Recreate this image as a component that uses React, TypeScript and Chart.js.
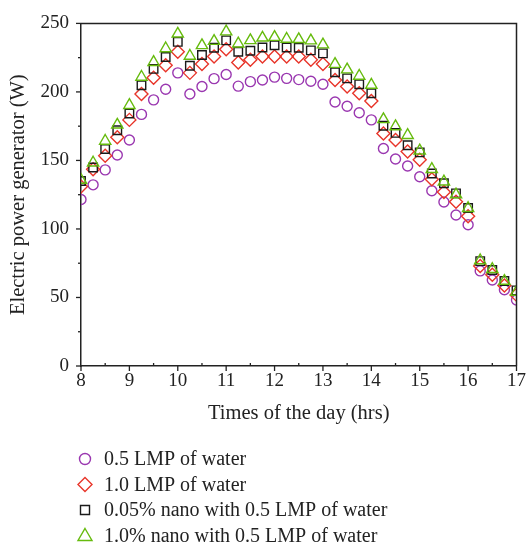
import React, { useEffect, useRef } from "react";
import { Chart, registerables } from "chart.js";

Chart.register(...registerables);

const hours = [8, 8.25, 8.5, 8.75, 9, 9.25, 9.5, 9.75, 10, 10.25, 10.5, 10.75, 11, 11.25, 11.5, 11.75, 12, 12.25, 12.5, 12.75, 13, 13.25, 13.5, 13.75, 14, 14.25, 14.5, 14.75, 15, 15.25, 15.5, 15.75, 16, 16.25, 16.5, 16.75, 17];

const lmp05 = [121.5, 132.2, 143.1, 154, 164.9, 183.6, 194.2, 202, 213.9, 198.5, 204, 209.7, 212.7, 204.2, 207.5, 208.7, 210.8, 209.9, 209, 207.8, 205.6, 192.6, 189.5, 184.8, 179.6, 158.7, 151.1, 145.9, 138.1, 127.9, 119.7, 110.2, 103.1, 69.4, 62.8, 55.6, 48.1];
const lmp10 = [131, 143.6, 153.5, 167, 179.6, 198.5, 210.4, 219.4, 229.3, 213.9, 220.3, 225.8, 231.2, 221.5, 223.4, 225.8, 225.8, 225.8, 225.8, 223.4, 220.3, 208.7, 204, 199, 193.3, 169.6, 164.9, 156.6, 150.5, 136.2, 127, 119.9, 109.2, 73, 66.6, 58.8, 51.9];
const nano005 = [135, 144.8, 158.3, 172, 184.3, 204.9, 216.8, 225.5, 236.5, 219.1, 226.9, 232.2, 237.6, 229.3, 230, 232.4, 234, 232.4, 232.2, 230.3, 228.1, 214.4, 209.9, 205.6, 199, 175.3, 170.1, 161.1, 155.9, 140.5, 133.4, 126, 115.3, 76.5, 70.1, 62, 55.2];
const nano10 = [135.7, 148.3, 164.2, 176, 190.3, 210.9, 221.7, 231.7, 242.4, 226.2, 234, 237.1, 244, 235.2, 237.6, 239.5, 240, 238.6, 238.4, 237.4, 234.5, 220.3, 216.3, 211.6, 205.1, 180, 174.8, 168.4, 157.1, 143.6, 134.5, 125.1, 115.1, 77, 70.6, 62, 54];

const seriesLabels = [
  "0.5 LMP of water",
  "1.0 LMP of water",
  "0.05% nano with 0.5 LMP of water",
  "1.0% nano with 0.5 LMP of water",
];
const seriesValues = [lmp05, lmp10, nano005, nano10];
const seriesColors = ["#9a37b0", "#e8352a", "#1a1a1a", "#66bb0e"];
const seriesStyles = ["circle", "rectRot", "rect", "triangle"];
const seriesRadius = [5, 6.5, 6, 6.5];

const xTitle = "Times of the day (hrs)";
const yTitle = "Electric power generator (W)";
const FONT = "'Liberation Serif', 'DejaVu Serif', serif";

const framePlugin = {
  id: "frame",
  afterDraw(chart: any) {
    const { ctx, chartArea } = chart;
    const { left, right, top, bottom } = chartArea;
    const xs = chart.scales.x;
    const ys = chart.scales.y;
    ctx.save();
    ctx.strokeStyle = "#222";
    ctx.lineWidth = 1.5;
    ctx.beginPath();
    ctx.moveTo(left, top);
    ctx.lineTo(right, top);
    ctx.lineTo(right, bottom);
    ctx.stroke();
    ctx.lineWidth = 1.3;
    for (let v = 8; v <= 17.001; v += 0.5) {
      const px = xs.getPixelForValue(v);
      const major = Math.abs(v - Math.round(v)) < 1e-6;
      ctx.beginPath();
      if (major) {
        ctx.moveTo(px, bottom);
        ctx.lineTo(px, bottom + 5);
      } else {
        ctx.moveTo(px, bottom);
        ctx.lineTo(px, bottom - 3);
      }
      ctx.stroke();
    }
    for (let v = 0; v <= 250.001; v += 25) {
      const py = ys.getPixelForValue(v);
      const major = v % 50 === 0;
      ctx.beginPath();
      ctx.moveTo(left, py);
      ctx.lineTo(left - (major ? 5 : 3), py);
      ctx.stroke();
    }
    const x0 = 85;
    const rowY = [459, 484.5, 510, 535.5];
    ctx.font = "20px " + FONT;
    ctx.textBaseline = "middle";
    ctx.textAlign = "left";
    for (let i = 0; i < seriesLabels.length; i++) {
      ctx.save();
      ctx.strokeStyle = seriesColors[i];
      ctx.lineWidth = 1.4;
      ctx.beginPath();
      const y = rowY[i];
      if (i === 0) {
        ctx.arc(x0, y, 5.5, 0, Math.PI * 2);
      } else if (i === 1) {
        ctx.moveTo(x0, y - 7);
        ctx.lineTo(x0 + 7, y);
        ctx.lineTo(x0, y + 7);
        ctx.lineTo(x0 - 7, y);
        ctx.closePath();
      } else if (i === 2) {
        ctx.rect(x0 - 4.5, y - 4.5, 9, 9);
      } else {
        ctx.moveTo(x0, y - 7);
        ctx.lineTo(x0 + 7, y + 5);
        ctx.lineTo(x0 - 7, y + 5);
        ctx.closePath();
      }
      ctx.stroke();
      ctx.restore();
      ctx.fillStyle = "#222";
      ctx.fillText(seriesLabels[i], 104, y + 1);
    }
    ctx.restore();
  },
};

export default function App() {
  const ref = useRef<HTMLCanvasElement | null>(null);
  useEffect(() => {
    document.body.style.margin = "0";
    const canvas = ref.current;
    if (!canvas) return;
    const datasets = seriesValues.map((vals, i) => ({
      label: seriesLabels[i],
      data: hours.map((h, j) => ({ x: h, y: vals[j] })),
      showLine: false,
      pointStyle: seriesStyles[i] as any,
      pointRadius: seriesRadius[i],
      pointBorderColor: seriesColors[i],
      pointBackgroundColor: "rgba(0,0,0,0)",
      borderColor: seriesColors[i],
      backgroundColor: "rgba(0,0,0,0)",
      pointBorderWidth: 1.4,
      order: 4 - i,
    }));
    const chart = new Chart(canvas, {
      type: "scatter",
      data: { datasets },
      plugins: [framePlugin],
      options: {
        responsive: false,
        animation: false,
        layout: { padding: { top: 14, right: 10, bottom: 110, left: 0 } },
        plugins: { legend: { display: false }, tooltip: { enabled: false } },
        scales: {
          x: {
            type: "linear",
            min: 8,
            max: 17,
            afterFit: (s: any) => { s.height = 74; },
            ticks: { stepSize: 1, color: "#222", font: { family: FONT, size: 19 }, padding: 4, maxRotation: 0 },
            grid: { display: true, drawOnChartArea: false, drawTicks: false },
            border: { color: "#222", width: 1.5 },
            title: { display: true, text: xTitle, color: "#222", font: { family: FONT, size: 20.5 }, padding: { top: 0, bottom: 14 } },
          },
          y: {
            min: 0,
            max: 250,
            afterFit: (s: any) => { s.width = 81; },
            ticks: { stepSize: 50, color: "#222", font: { family: FONT, size: 19 }, padding: 12 },
            grid: { display: true, drawOnChartArea: false, drawTicks: false },
            border: { color: "#222", width: 1.5 },
            title: { display: true, text: yTitle, color: "#222", font: { family: FONT, size: 20.5 }, padding: { top: 6, bottom: 0 } },
          },
        },
      },
    });
    return () => chart.destroy();
  }, []);
  return <canvas ref={ref} width={530} height={550} style={{ display: "block" }} />;
}
